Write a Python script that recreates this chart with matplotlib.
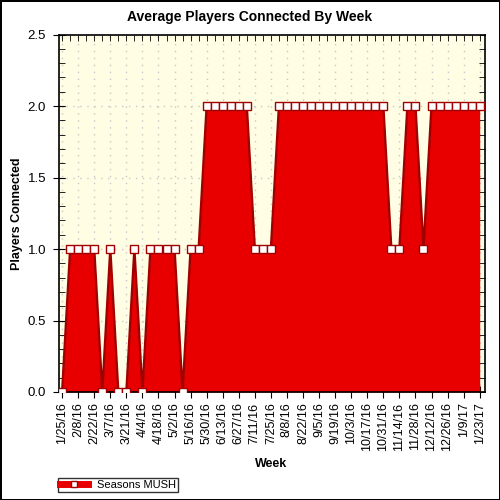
import matplotlib.pyplot as plt
from matplotlib.lines import Line2D

plt.rcParams['font.family'] = ['Liberation Sans', 'DejaVu Sans']

# average players connected, one value per week starting 1/25/16
players = [0, 1, 1, 1, 1, 0, 1, 0, 0, 1, 0, 1, 1, 1, 1, 0, 1, 1,
           2, 2, 2, 2, 2, 2, 1, 1, 1,
           2, 2, 2, 2, 2, 2, 2, 2, 2, 2, 2, 2, 2, 2,
           1, 1, 2, 2, 1,
           2, 2, 2, 2, 2, 2, 2]
week_labels = ['1/25/16', '2/8/16', '2/22/16', '3/7/16', '3/21/16', '4/4/16',
               '4/18/16', '5/2/16', '5/16/16', '5/30/16', '6/13/16', '6/27/16',
               '7/11/16', '7/25/16', '8/8/16', '8/22/16', '9/5/16', '9/19/16',
               '10/3/16', '10/17/16', '10/31/16', '11/14/16', '11/28/16',
               '12/12/16', '12/26/16', '1/9/17', '1/23/17']
series_name = 'Seasons MUSH'

red = '#e80000'
dark = '#a00000'

fig = plt.figure(figsize=(5, 5), dpi=100)
fig.patch.set_edgecolor('black')
fig.patch.set_linewidth(2)
ax = fig.add_axes([0.117, 0.216, 0.852, 0.715])
ax.set_facecolor('#fffde4')

x = list(range(len(players)))
ax.fill_between(x, players, 0, color=red, lw=0, zorder=2)
ax.plot(x, players, color=dark, lw=1.7, zorder=3,
        marker='s', markersize=5.8, markerfacecolor='white',
        markeredgecolor=dark, markeredgewidth=1)

ax.set_xlim(-0.45, 52.6)
ax.set_ylim(0, 2.5)

ax.set_xticks(range(0, len(players), 2))
ax.set_xticklabels(week_labels, rotation=90, fontsize=9)
ax.set_xticks(range(len(players)), minor=True)
ax.set_yticks([0, 0.5, 1.0, 1.5, 2.0, 2.5])
ax.set_yticklabels(['0.0', '0.5', '1.0', '1.5', '2.0', '2.5'], fontsize=9.5)
ax.set_yticks([i / 10 for i in range(26)], minor=True)
ax.xaxis.remove_overlapping_locs = False
ax.yaxis.remove_overlapping_locs = False

ax.tick_params(axis='x', which='major', direction='inout', length=9,
               top=False, bottom=True, pad=3)
ax.tick_params(axis='x', which='minor', direction='in', length=4,
               top=True, bottom=False)
ax.tick_params(axis='y', which='major', direction='inout', length=8,
               left=True, right=False, pad=5)
ax.tick_params(axis='y', which='minor', direction='in', length=4,
               left=True, right=True)
for s in ax.spines.values():
    s.set_linewidth(1.2)

ax.grid(True, which='major', color='#c8c8c8', linestyle=(0, (1, 4)), lw=1)
ax.set_axisbelow(True)

fig.text(0.5, 1 - 17 / 500, 'Average Players Connected By Week',
         ha='center', va='center', fontsize=10, fontweight='bold')
ax.set_ylabel('Players Connected', fontsize=9, fontweight='bold')
ax.yaxis.set_label_coords(-0.083, 0.5)
ax.set_xlabel('Week', fontsize=9, fontweight='bold')
ax.xaxis.set_label_coords(0.5, -0.185)

handle = Line2D([], [], color=red, lw=5, marker='s', markersize=5,
                markerfacecolor='white', markeredgecolor=dark)
leg = fig.legend([handle], [series_name], loc='lower left',
                 bbox_to_anchor=(58 / 500, 8 / 500), fontsize=8,
                 frameon=True, fancybox=False, handlelength=2.5,
                 borderpad=0.2, borderaxespad=0, handletextpad=0.8)
leg.get_frame().set_edgecolor('black')
leg.get_frame().set_linewidth(1)

fig.savefig('out.png', dpi=100, edgecolor=fig.get_edgecolor())
